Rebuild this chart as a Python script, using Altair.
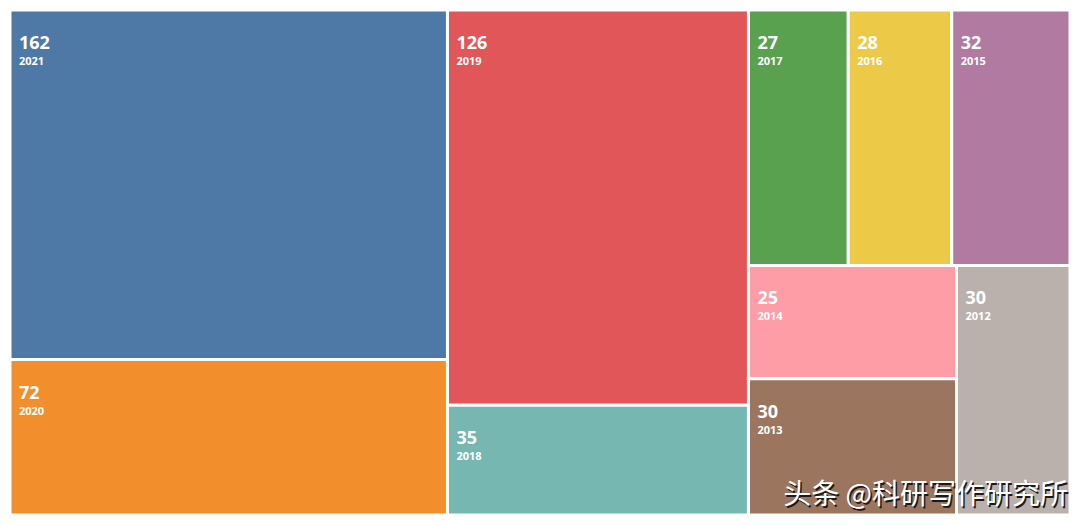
import altair as alt
import pandas as pd

# ---- data ----
years = ["2021", "2020", "2019", "2018", "2017", "2016", "2015", "2014", "2013", "2012"]
counts = [162, 72, 126, 35, 27, 28, 32, 25, 30, 30]
colors = ["#4e79a7", "#f28e2b", "#e15759", "#76b7b2", "#59a14f",
          "#edc948", "#b07aa1", "#ff9da7", "#9c755f", "#bab0ac"]
watermark = ["头条 @科研写作研究所"]

W, H = 1080.0, 525.0
RATIO = 1.65


def squarify(values, x0, y0, x1, y1, ratio):
    """d3-style squarified treemap layout."""
    n = len(values)
    out = [None] * n
    i0 = i1 = 0
    value = float(sum(values))
    while i0 < n:
        dx, dy = x1 - x0, y1 - y0
        sum_v = values[i1]
        i1 += 1
        min_v = max_v = sum_v
        alpha = max(dy / dx, dx / dy) / (value * ratio)
        beta = sum_v * sum_v * alpha
        min_ratio = max(max_v / beta, beta / min_v)
        while i1 < n:
            nv = values[i1]
            sum_v += nv
            min_v = min(min_v, nv)
            max_v = max(max_v, nv)
            beta = sum_v * sum_v * alpha
            new_ratio = max(max_v / beta, beta / min_v)
            if new_ratio > min_ratio:
                sum_v -= nv
                break
            min_ratio = new_ratio
            i1 += 1
        row = list(range(i0, i1))
        if dx < dy:  # dice: horizontal row at the top
            h = dy * sum_v / value
            cx = x0
            for i in row:
                w = dx * values[i] / sum_v
                out[i] = (cx, y0, cx + w, y0 + h)
                cx += w
            y0 += h
        else:  # slice: vertical column at the left
            w = dx * sum_v / value
            cy = y0
            for i in row:
                h = dy * values[i] / sum_v
                out[i] = (x0, cy, x0 + w, cy + h)
                cy += h
            x0 += w
        value -= sum_v
        i0 = i1
    return out


rects = squarify(counts, 0.0, 0.0, W, H, RATIO)
df = pd.DataFrame({
    "year": years,
    "count": counts,
    "x0": [r[0] for r in rects],
    "y0": [r[1] for r in rects],
    "x1": [r[2] for r in rects],
    "y1": [r[3] for r in rects],
})

xs = alt.Scale(domain=[0, W], nice=False, zero=False)
ys = alt.Scale(domain=[0, H], nice=False, zero=False, reverse=True)

base = alt.Chart(df)

boxes = base.mark_rect(stroke="white", strokeWidth=3).encode(
    x=alt.X("x0:Q", scale=xs, axis=None),
    x2="x1:Q",
    y=alt.Y("y0:Q", scale=ys, axis=None),
    y2="y1:Q",
    color=alt.Color("year:N", scale=alt.Scale(domain=years, range=colors), legend=None),
    tooltip=["year", "count"],
)

val_text = base.mark_text(
    align="left", baseline="alphabetic", dx=9, dy=39,
    font="Open Sans", fontSize=18, fontWeight="bold", color="white",
).encode(
    x=alt.X("x0:Q", scale=xs, axis=None),
    y=alt.Y("y0:Q", scale=ys, axis=None),
    text="count:Q",
)

year_text = base.mark_text(
    align="left", baseline="alphabetic", dx=9, dy=55,
    font="Open Sans", fontSize=11, fontWeight="bold", color="white",
).encode(
    x=alt.X("x0:Q", scale=xs, axis=None),
    y=alt.Y("y0:Q", scale=ys, axis=None),
    text="year:N",
)

wm_df = pd.DataFrame({"t": watermark})
wm_shadow = alt.Chart(wm_df).mark_text(
    align="right", baseline="alphabetic", dx=1.5, dy=1.5,
    font="Noto Sans CJK SC", fontSize=28, fontWeight="normal", color="#1a1a1a",
).encode(x=alt.value(1058), y=alt.value(494), text="t:N")
wm_text = alt.Chart(wm_df).mark_text(
    align="right", baseline="alphabetic",
    font="Noto Sans CJK SC", fontSize=28, fontWeight="normal", color="white",
).encode(x=alt.value(1058), y=alt.value(494), text="t:N")

chart = alt.layer(boxes, val_text, year_text, wm_shadow, wm_text).properties(
    width=1064, height=509,
    autosize=alt.AutoSizeParams(type="fit", contains="padding"),
    padding=0,
).configure_view(strokeWidth=0)

chart.save("out.html", embed_options={"renderer": "svg", "actions": False})
